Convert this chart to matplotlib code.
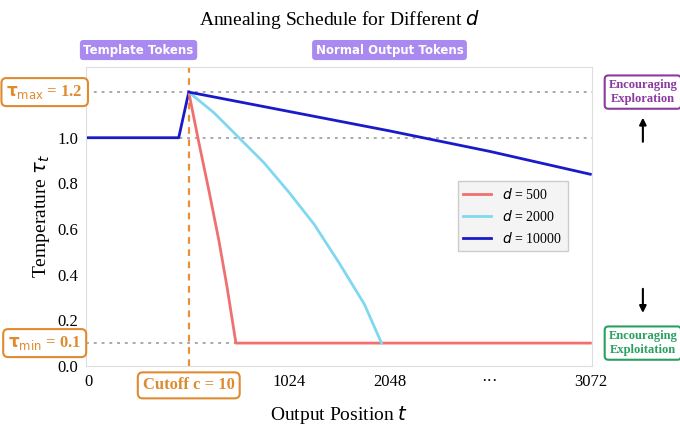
import matplotlib
matplotlib.use("Agg")
import matplotlib.pyplot as plt

plt.rcParams['font.family'] = ['Liberation Serif', 'DejaVu Serif']
plt.rcParams['mathtext.fontset'] = 'dejavusans'

tick_pos = [0, 1, 2, 3, 4, 5]
tick_labels = ["0", "", "1024", "2048", "···", "3072"]
pre_x = [0, 0.9, 1.0]
pre_y = [1.0, 1.0, 1.2]
red_x = [1.0, 1.1, 1.2, 1.3, 1.38, 1.47, 5.0]
red_y = [1.2, 0.98, 0.77, 0.55, 0.35, 0.1, 0.1]
cyan_x = [1.0, 1.25, 1.5, 1.75, 2.0, 2.25, 2.5, 2.75, 2.92]
cyan_y = [1.2, 1.11, 1.0, 0.89, 0.76, 0.62, 0.45, 0.27, 0.1]
blue_x = [1.0, 2.0, 3.0, 4.0, 5.0]
blue_y = [1.2, 1.115, 1.03, 0.94, 0.84]
tau_max, tau_min = 1.2, 0.1

fig = plt.figure(figsize=(6.8, 4.24), dpi=100)
ax = fig.add_axes([0.127, 0.137, 0.744, 0.705])
for s in ax.spines.values():
    s.set_color('#dddddd')
for yv in [tau_max, 1.0, tau_min]:
    ax.axhline(yv, color='#aaaaaa', ls=(0, (1.5, 2.5)), lw=1.4, zorder=1)
ax.axvline(1.0, color='#e8903a', ls=(0, (3, 2.5)), lw=1.6, zorder=2)
ax.plot(pre_x, pre_y, color='#1a1ac8', lw=2, zorder=3)
ax.plot(red_x, red_y, color='#f07070', lw=2, label=r'$d$ = 500', zorder=4)
ax.plot(cyan_x, cyan_y, color='#80d8f0', lw=2, label=r'$d$ = 2000', zorder=4)
ax.plot(blue_x, blue_y, color='#1a1ac8', lw=2, label=r'$d$ = 10000', zorder=5)
ax.set_xlim(-0.02, 5.02)
ax.set_ylim(0, 1.31)
ax.set_xticks(tick_pos)
ax.set_xticklabels(tick_labels, fontsize=12)
ax.set_yticks([0.0, 0.2, 0.4, 0.6, 0.8, 1.0])
ax.set_yticklabels(["0.0", "0.2", "0.4", "0.6", "0.8", "1.0"], fontsize=12)
ax.tick_params(length=0, pad=6)
ax.set_xlabel(r'Output Position $t$', fontsize=14, labelpad=10)
ax.set_ylabel(r'Temperature $\tau_t$', fontsize=14)
ax.set_title(r'Annealing Schedule for Different $d$', fontsize=14, pad=30)
leg = ax.legend(loc='center right', bbox_to_anchor=(0.965, 0.5), fontsize=10, frameon=True,
                fancybox=False, edgecolor='#cccccc', facecolor='#f4f4f4')
leg.get_frame().set_alpha(1)

orange = '#e08a30'
box = dict(boxstyle='round,pad=0.3', fc='white', ec=orange, lw=1.5)
ax.annotate(r'$\mathbf{\tau}_{\rm max}$ = 1.2', xy=(0, tau_max), xycoords=('axes fraction', 'data'),
            xytext=(-30, 0), textcoords='offset points', ha='center', va='center',
            fontsize=12, fontweight='bold', color=orange, bbox=box, annotation_clip=False)
ax.annotate(r'$\mathbf{\tau}_{\rm min}$ = 0.1', xy=(0, tau_min), xycoords=('axes fraction', 'data'),
            xytext=(-30, 0), textcoords='offset points', ha='center', va='center',
            fontsize=12, fontweight='bold', color=orange, bbox=box, annotation_clip=False)
ax.annotate('Cutoff c = 10', xy=(1.0, 0), xycoords=('data', 'axes fraction'),
            xytext=(0, -14), textcoords='offset points', ha='center', va='center',
            fontsize=12, fontweight='bold', color=orange, bbox=box, annotation_clip=False)

purple = dict(boxstyle='round,pad=0.3', fc='#a98af0', ec='none')
ax.text(0.5, 1.035, 'Template Tokens', transform=ax.get_xaxis_transform(), ha='center', va='bottom',
        fontsize=8.5, fontweight='bold', color='white', family='DejaVu Sans', bbox=purple)
ax.text(3.0, 1.035, 'Normal Output Tokens', transform=ax.get_xaxis_transform(), ha='center', va='bottom',
        fontsize=8.5, fontweight='bold', color='white', family='DejaVu Sans', bbox=purple)

ax.text(1.1, tau_max, 'Encouraging\nExploration', transform=ax.get_yaxis_transform(), ha='center',
        va='center', fontsize=9, fontweight='bold', color='#8a3aa0',
        bbox=dict(boxstyle='round,pad=0.3', fc='white', ec='#8a3aa0', lw=1.5))
ax.text(1.1, tau_min, 'Encouraging\nExploitation', transform=ax.get_yaxis_transform(), ha='center',
        va='center', fontsize=9, fontweight='bold', color='#2aa060',
        bbox=dict(boxstyle='round,pad=0.3', fc='white', ec='#2aa060', lw=1.5))
ax.annotate('', xy=(1.1, 1.1), xytext=(1.1, 0.97), xycoords=ax.get_yaxis_transform(),
            arrowprops=dict(arrowstyle='-|>', color='black', lw=1.5), annotation_clip=False)
ax.annotate('', xy=(1.1, 0.22), xytext=(1.1, 0.35), xycoords=ax.get_yaxis_transform(),
            arrowprops=dict(arrowstyle='-|>', color='black', lw=1.5), annotation_clip=False)

fig.savefig('out.png', dpi=100)
